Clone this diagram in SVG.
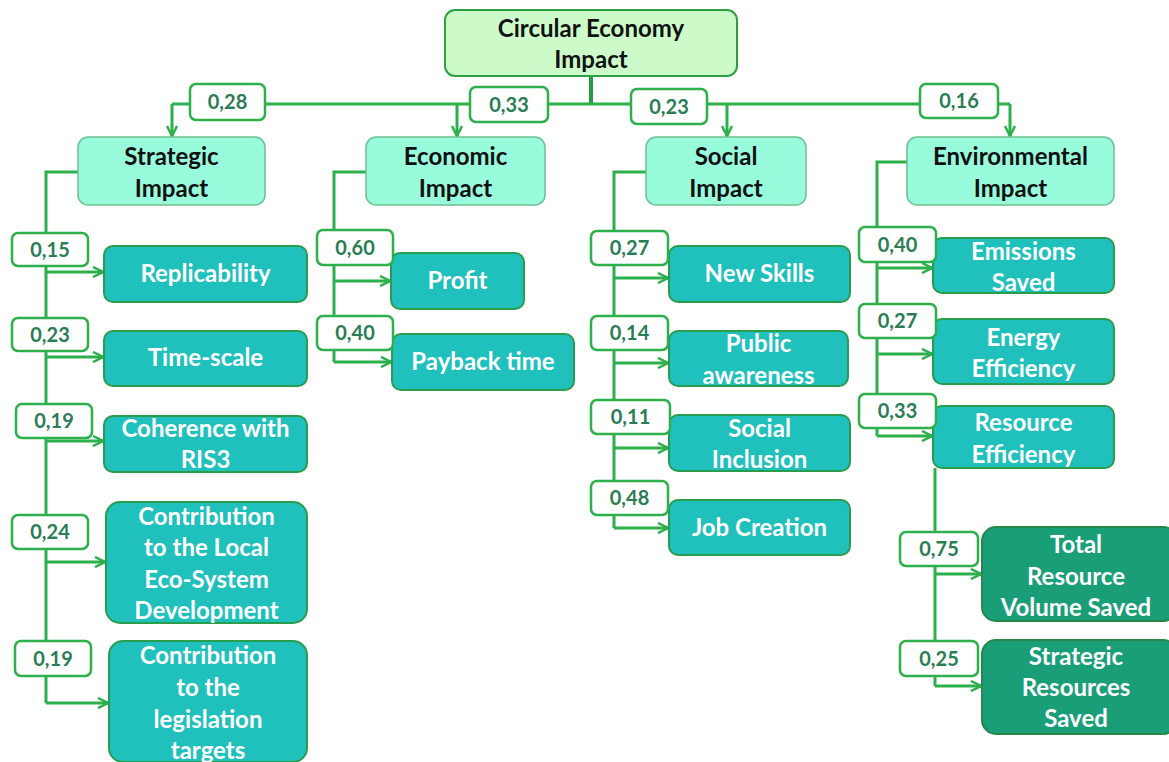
<svg xmlns="http://www.w3.org/2000/svg" width="1169" height="762" viewBox="0 0 1169 762">
<style>
text{font-family:Lato,"Open Sans","Liberation Sans",sans-serif;font-weight:bold;text-anchor:middle}
.root rect{fill:#ccfbc9;stroke:#2ea043;stroke-width:2}
.root text{fill:#111;font-size:24px}
.l2 rect{fill:#98fbdc;stroke:#6cc08f;stroke-width:1.5}
.l2 text{fill:#111;font-size:24px}
.leaf rect{fill:#20c0bd;stroke:#2a9d4c;stroke-width:2}
.leaf text{fill:#fff;font-size:24px}
.dark rect{fill:#1a9e78;stroke:#27874a;stroke-width:2}
.dark text{fill:#fff;font-size:24px}
.lbl rect{fill:#fff;stroke:#2db04b;stroke-width:2.5}
.lbl text{fill:#2a7d55;font-size:20px}
.conn path{fill:none;stroke:#2db04b;stroke-width:3}
.trunk{stroke:#2a9a45 !important;stroke-width:4 !important}
</style>
<defs>
<marker id="ah" viewBox="0 0 12 12" refX="11" refY="6" markerWidth="12" markerHeight="12" markerUnits="userSpaceOnUse" orient="auto">
<path d="M1,1 L11,6 L1,11" fill="none" stroke="#2db04b" stroke-width="2.5"/>
</marker>
</defs>
<g id="connectors" class="conn">
<path class="trunk" d="M591,76 V105"/>
<path d="M172,104 H1010"/>
<path d="M172,104 V136" marker-end="url(#ah)"/>
<path d="M457,104 V136" marker-end="url(#ah)"/>
<path d="M727,104 V136" marker-end="url(#ah)"/>
<path d="M1010,104 V136" marker-end="url(#ah)"/>
<path d="M78,172 H46 V703"/>
<path d="M46,272 H103" marker-end="url(#ah)"/>
<path d="M46,357 H103" marker-end="url(#ah)"/>
<path d="M46,441 H103" marker-end="url(#ah)"/>
<path d="M46,562 H105" marker-end="url(#ah)"/>
<path d="M46,703 H108" marker-end="url(#ah)"/>
<path d="M366,172 H334 V362"/>
<path d="M334,281 H390" marker-end="url(#ah)"/>
<path d="M334,362 H391" marker-end="url(#ah)"/>
<path d="M646,172 H614 V528"/>
<path d="M614,278 H668" marker-end="url(#ah)"/>
<path d="M614,363 H668" marker-end="url(#ah)"/>
<path d="M614,448 H668" marker-end="url(#ah)"/>
<path d="M614,528 H668" marker-end="url(#ah)"/>
<path d="M907,162 H877 V436"/>
<path d="M877,268 H932" marker-end="url(#ah)"/>
<path d="M877,354 H932" marker-end="url(#ah)"/>
<path d="M877,436 H932" marker-end="url(#ah)"/>
<path d="M935,468 V686"/>
<path d="M935,574 H981" marker-end="url(#ah)"/>
<path d="M935,686 H981" marker-end="url(#ah)"/>
</g>
<g id="n-root" class="root"><rect x="445" y="10" width="292" height="66" rx="10"/><text x="591" y="37">Circular Economy</text><text x="591" y="68">Impact</text></g>
<g id="n-strategic" class="l2"><rect x="78" y="137" width="187" height="68" rx="10"/><text x="171.5" y="165">Strategic</text><text x="171.5" y="197">Impact</text></g>
<g id="n-economic" class="l2"><rect x="366" y="137" width="179" height="68" rx="10"/><text x="455.5" y="165">Economic</text><text x="455.5" y="197">Impact</text></g>
<g id="n-social" class="l2"><rect x="646" y="137" width="160" height="68" rx="10"/><text x="726" y="165">Social</text><text x="726" y="197">Impact</text></g>
<g id="n-environmental" class="l2"><rect x="907" y="137" width="207" height="68" rx="10"/><text x="1010.5" y="165">Environmental</text><text x="1010.5" y="197">Impact</text></g>
<g id="w-028" class="lbl"><rect x="190" y="84" width="75" height="36" rx="6"/><text x="227.5" y="109">0,28</text></g>
<g id="w-033" class="lbl"><rect x="470" y="87" width="78" height="35" rx="6"/><text x="509" y="112">0,33</text></g>
<g id="w-023" class="lbl"><rect x="631" y="89" width="76" height="35" rx="6"/><text x="669" y="114">0,23</text></g>
<g id="w-016" class="lbl"><rect x="920" y="84" width="78" height="34" rx="6"/><text x="959" y="108">0,16</text></g>
<g id="n-replicability" class="leaf"><rect x="104" y="246" width="203" height="56" rx="9"/><text x="205.5" y="282">Replicability</text></g>
<g id="n-timescale" class="leaf"><rect x="104" y="331" width="203" height="55" rx="9"/><text x="205.5" y="366">Time-scale</text></g>
<g id="n-coherence" class="leaf"><rect x="104" y="416" width="203" height="56" rx="9"/><text x="205.5" y="437">Coherence with</text><text x="205.5" y="468">RIS3</text></g>
<g id="n-local" class="leaf"><rect x="106" y="502" width="201" height="121" rx="14"/><text x="206.5" y="525">Contribution</text><text x="206.5" y="556">to the Local</text><text x="206.5" y="588">Eco-System</text><text x="206.5" y="619">Development</text></g>
<g id="n-legislation" class="leaf"><rect x="109" y="641" width="198" height="121" rx="14"/><text x="208" y="664">Contribution</text><text x="208" y="696">to the</text><text x="208" y="728">legislation</text><text x="208" y="759">targets</text></g>
<g id="w-015" class="lbl"><rect x="12" y="233" width="76" height="33" rx="6"/><text x="50" y="257">0,15</text></g>
<g id="w-023b" class="lbl"><rect x="12" y="318" width="76" height="33" rx="6"/><text x="50" y="342">0,23</text></g>
<g id="w-019" class="lbl"><rect x="16" y="404" width="76" height="34" rx="6"/><text x="54" y="428">0,19</text></g>
<g id="w-024" class="lbl"><rect x="12" y="515" width="76" height="34" rx="6"/><text x="50" y="539">0,24</text></g>
<g id="w-019b" class="lbl"><rect x="15" y="641" width="76" height="35" rx="6"/><text x="53" y="666">0,19</text></g>
<g id="n-profit" class="leaf"><rect x="391" y="253" width="133" height="56" rx="9"/><text x="457.5" y="289">Profit</text></g>
<g id="n-payback" class="leaf"><rect x="392" y="334" width="182" height="56" rx="9"/><text x="483" y="370">Payback time</text></g>
<g id="w-060" class="lbl"><rect x="317" y="230" width="76" height="35" rx="6"/><text x="355" y="255">0,60</text></g>
<g id="w-040" class="lbl"><rect x="317" y="316" width="76" height="34" rx="6"/><text x="355" y="340">0,40</text></g>
<g id="n-newskills" class="leaf"><rect x="669" y="246" width="181" height="56" rx="9"/><text x="759.5" y="282">New Skills</text></g>
<g id="n-public" class="leaf"><rect x="669" y="331" width="179" height="55" rx="9"/><text x="758.5" y="352">Public</text><text x="758.5" y="384">awareness</text></g>
<g id="n-inclusion" class="leaf"><rect x="669" y="415" width="181" height="56" rx="9"/><text x="759.5" y="437">Social</text><text x="759.5" y="468">Inclusion</text></g>
<g id="n-jobs" class="leaf"><rect x="669" y="500" width="181" height="55" rx="9"/><text x="759.5" y="536">Job Creation</text></g>
<g id="w-027" class="lbl"><rect x="591" y="231" width="77" height="34" rx="6"/><text x="629.5" y="255">0,27</text></g>
<g id="w-014" class="lbl"><rect x="591" y="316" width="77" height="34" rx="6"/><text x="629.5" y="340">0,14</text></g>
<g id="w-011" class="lbl"><rect x="591" y="400" width="79" height="34" rx="6"/><text x="630.5" y="424">0,11</text></g>
<g id="w-048" class="lbl"><rect x="591" y="481" width="77" height="34" rx="6"/><text x="629.5" y="505">0,48</text></g>
<g id="n-emissions" class="leaf"><rect x="933" y="238" width="181" height="55" rx="9"/><text x="1023.5" y="260">Emissions</text><text x="1023.5" y="291">Saved</text></g>
<g id="n-energy" class="leaf"><rect x="933" y="319" width="181" height="65" rx="9"/><text x="1023.5" y="346">Energy</text><text x="1023.5" y="377">Efficiency</text></g>
<g id="n-resource" class="leaf"><rect x="933" y="406" width="181" height="62" rx="9"/><text x="1023.5" y="431">Resource</text><text x="1023.5" y="463">Efficiency</text></g>
<g id="w-040b" class="lbl"><rect x="859" y="227" width="77" height="35" rx="6"/><text x="897.5" y="252">0,40</text></g>
<g id="w-027b" class="lbl"><rect x="859" y="304" width="77" height="34" rx="6"/><text x="897.5" y="328">0,27</text></g>
<g id="w-033b" class="lbl"><rect x="859" y="394" width="77" height="34" rx="6"/><text x="897.5" y="418">0,33</text></g>
<g id="n-total" class="dark"><rect x="982" y="527" width="195" height="94" rx="14"/><text x="1076" y="553">Total</text><text x="1076" y="585">Resource</text><text x="1076" y="616">Volume Saved</text></g>
<g id="n-strategicres" class="dark"><rect x="982" y="640" width="195" height="94" rx="14"/><text x="1076" y="665">Strategic</text><text x="1076" y="696">Resources</text><text x="1076" y="727">Saved</text></g>
<g id="w-075" class="lbl"><rect x="900" y="532" width="78" height="34" rx="6"/><text x="939" y="556">0,75</text></g>
<g id="w-025" class="lbl"><rect x="900" y="641" width="78" height="35" rx="6"/><text x="939" y="666">0,25</text></g>
</svg>
